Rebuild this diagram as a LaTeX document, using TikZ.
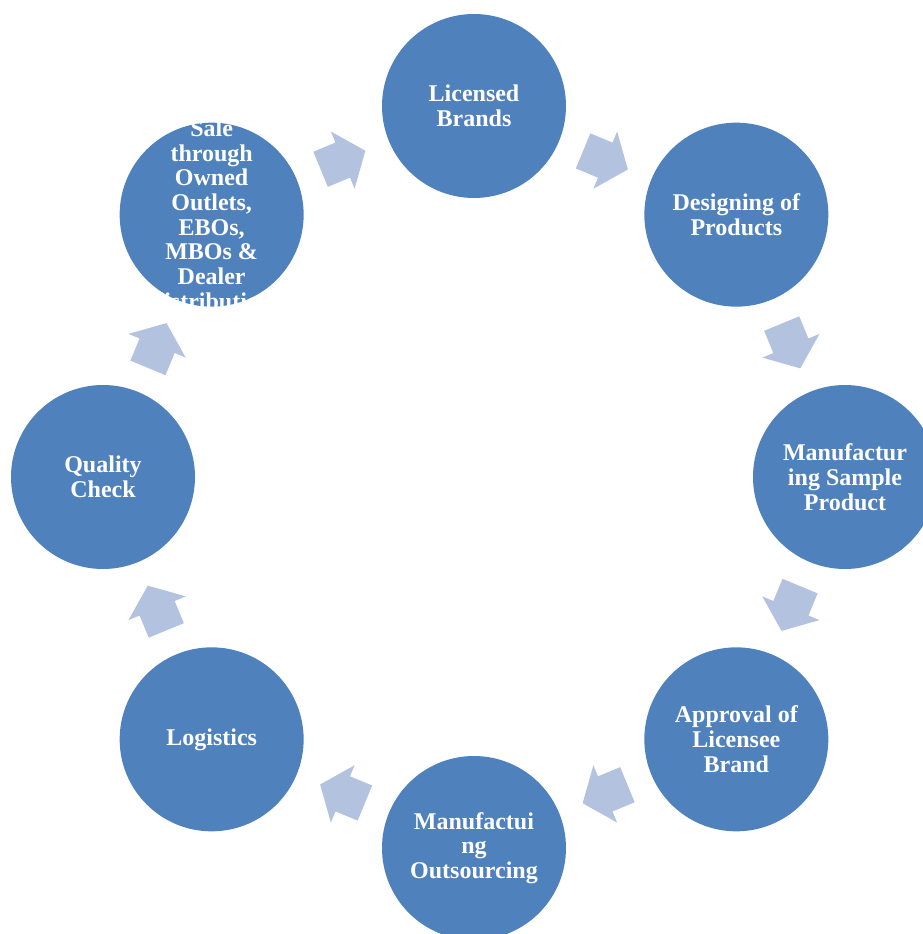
\documentclass[tikz,border=0pt]{standalone}
\usepackage{fontspec}
\setmainfont{Liberation Serif}
\definecolor{circ}{HTML}{4F81BD}
\definecolor{arr}{HTML}{B3C3DF}
\begin{document}
\begin{tikzpicture}[x=1pt,y=1pt,
  stage/.style={circle, fill=circ, minimum size=184pt, inner sep=0pt},
  stagetext/.style={text=white, font=\fontsize{24}{24.7}\selectfont\bfseries, align=center, inner sep=0pt},
  cyc/.style={fill=arr}]
\useasboundingbox (-474,-457) rectangle (449,477);
% circles
\node[stage] (lb) at (90:371) {};
\node[stage] (dp) at (45:371) {};
\node[stage] (ms) at (0:371) {};
\node[stage] (ap) at (-45:371) {};
\node[stage] (mo) at (-90:371) {};
\node[stage] (lg) at (-135:371) {};
\node[stage] (qc) at (180:371) {};
\node[stage] (sl) at (135:371) {};
% texts
\node[stagetext] (lbt) at (lb.center) {Licensed\\Brands};
\node[stagetext] (dpt) at (dp.center) {Designing of\\Products};
\node[stagetext] (mst) at (ms.center) {Manufactur\\ing Sample\\Product};
\node[stagetext] (apt) at (ap.center) {Approval of\\Licensee\\Brand};
\node[stagetext] (mot) at (mo.center) {Manufactui\\ng\\Outsourcing};
\node[stagetext] (lgt) at (lg.center) {Logistics};
\node[stagetext] (qct) at (qc.center) {Quality\\Check};
\node[stagetext] (slt) at (sl.center) {Sale\\through\\Owned\\Outlets,\\EBOs,\\MBOs \&\\Dealer\\distribution};
% cycle arrows
\foreach \a in {112.5,67.5,22.5,-22.5,-67.5,-112.5,-157.5,-202.5}
  \fill[cyc, shift={(\a:343)}, rotate=\a-90]
    (-24,-19) -- (0,-19) -- (0,-31) -- (24.5,0) -- (0,31) -- (0,19) -- (-24,19) -- cycle;
\end{tikzpicture}
\end{document}
